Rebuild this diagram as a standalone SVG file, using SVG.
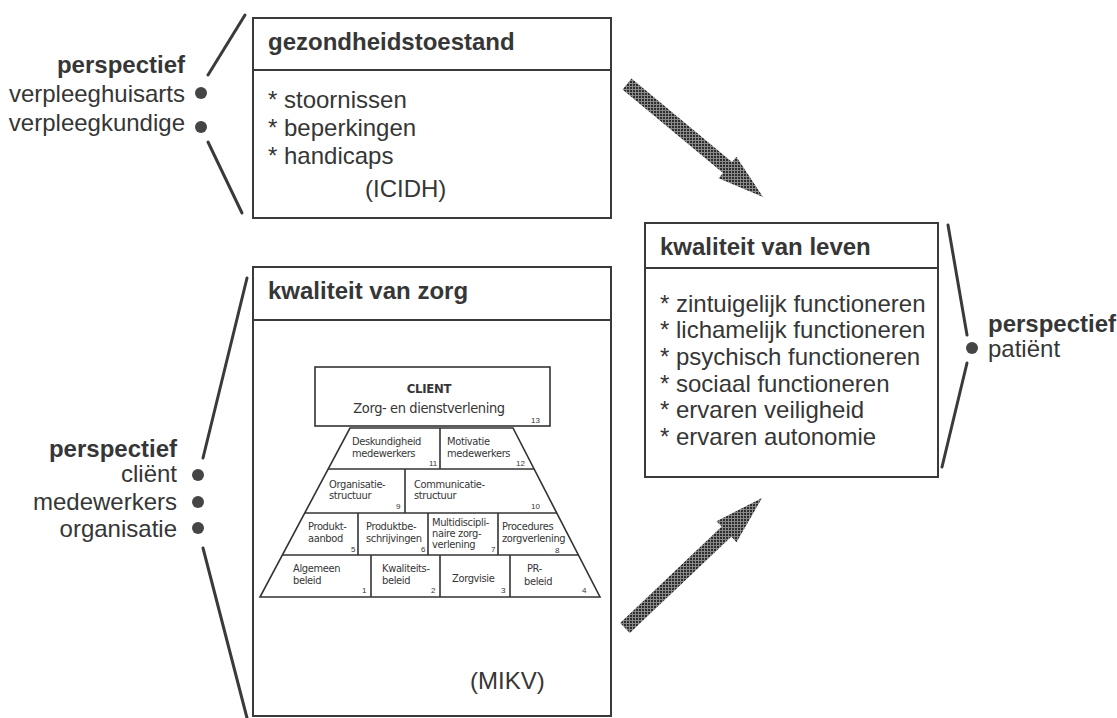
<svg xmlns="http://www.w3.org/2000/svg" width="1117" height="718" viewBox="0 0 1117 718">
<style>
text{font-family:"Liberation Sans",Arial,sans-serif;fill:#363636}
.t{font-size:24px;font-weight:bold}
.b{font-size:24px}
.s{font-family:"DejaVu Sans Condensed","Liberation Sans",sans-serif;font-size:11px;letter-spacing:-0.35px}
.n{font-size:8px}
.box{fill:#fff;stroke:#3a3a3a;stroke-width:2}
.ln{stroke:#3a3a3a;stroke-width:2;fill:none}
.pl{stroke:#333;stroke-width:1.6;fill:none}
.br{stroke:#3a3a3a;stroke-width:3;fill:none;stroke-linecap:round}
.dot{fill:#454545}
.r{text-anchor:end}
.m{text-anchor:middle}
</style>
<defs>
<pattern id="ht" width="3" height="3" patternUnits="userSpaceOnUse">
<rect width="3" height="3" fill="#8a8a8a"/>
<rect width="2" height="2" fill="#2e2e2e"/>
</pattern>
</defs>
<rect width="1117" height="718" fill="#fff"/>

<g id="gezondheidstoestand">
<rect class="box" x="253" y="18" width="358" height="200"/>
<line class="ln" x1="253" y1="70" x2="611" y2="70"/>
<text class="t" x="268" y="50">gezondheidstoestand</text>
<text class="b" x="268" y="108">* stoornissen</text>
<text class="b" x="268" y="136">* beperkingen</text>
<text class="b" x="268" y="164">* handicaps</text>
<text class="b" x="365" y="197">(ICIDH)</text>
</g>

<g id="kwaliteit-van-zorg">
<rect class="box" x="253" y="267" width="358" height="449"/>
<line class="ln" x1="253" y1="320" x2="611" y2="320"/>
<text class="t" x="268" y="299">kwaliteit van zorg</text>
<text class="b" x="470" y="689">(MIKV)</text>
</g>

<g id="pyramid">
<rect class="pl" x="315" y="367" width="235" height="59"/>
<text x="429" y="393" class="m" style="font-family:'DejaVu Sans Condensed','Liberation Sans',sans-serif;font-size:13px;font-weight:bold;letter-spacing:-0.3px">CLIENT</text>
<text x="429" y="413" class="m" style="font-family:'DejaVu Sans Condensed','Liberation Sans',sans-serif;font-size:14.5px;letter-spacing:-0.4px">Zorg- en dienstverlening</text>
<text class="n" x="531" y="423">13</text>
<polygon class="pl" points="350,428 513,428 600,597 260,597"/>
<line class="pl" x1="328" y1="469" x2="534" y2="469"/>
<line class="pl" x1="305" y1="513" x2="557" y2="513"/>
<line class="pl" x1="283" y1="555" x2="579" y2="555"/>
<line class="pl" x1="440" y1="428" x2="440" y2="469"/>
<line class="pl" x1="405" y1="469" x2="405" y2="513"/>
<line class="pl" x1="358" y1="513" x2="358" y2="555"/>
<line class="pl" x1="428" y1="513" x2="428" y2="555"/>
<line class="pl" x1="498" y1="513" x2="498" y2="555"/>
<line class="pl" x1="371" y1="555" x2="371" y2="597"/>
<line class="pl" x1="440" y1="555" x2="440" y2="597"/>
<line class="pl" x1="510" y1="555" x2="510" y2="597"/>
<text class="s" x="352" y="445">Deskundigheid</text>
<text class="s" x="352" y="457">medewerkers</text>
<text class="n" x="429" y="466">11</text>
<text class="s" x="447" y="445">Motivatie</text>
<text class="s" x="447" y="457">medewerkers</text>
<text class="n" x="516" y="466">12</text>
<text class="s" x="329" y="488">Organisatie-</text>
<text class="s" x="329" y="499">structuur</text>
<text class="n" x="396" y="509">9</text>
<text class="s" x="414" y="488">Communicatie-</text>
<text class="s" x="414" y="499">structuur</text>
<text class="n" x="531" y="509">10</text>
<text class="s" x="308" y="530">Produkt-</text>
<text class="s" x="308" y="542">aanbod</text>
<text class="n" x="351" y="552">5</text>
<text class="s" x="366" y="530">Produktbe-</text>
<text class="s" x="366" y="542">schrijvingen</text>
<text class="n" x="421" y="552">6</text>
<text class="s" x="432" y="526">Multidiscipli-</text>
<text class="s" x="432" y="537">naire zorg-</text>
<text class="s" x="432" y="548">verlening</text>
<text class="n" x="491" y="552">7</text>
<text class="s" x="502" y="530">Procedures</text>
<text class="s" x="502" y="542">zorgverlening</text>
<text class="n" x="555" y="553">8</text>
<text class="s" x="293" y="572">Algemeen</text>
<text class="s" x="293" y="584">beleid</text>
<text class="n" x="362" y="593">1</text>
<text class="s" x="382" y="572">Kwaliteits-</text>
<text class="s" x="382" y="584">beleid</text>
<text class="n" x="431" y="593">2</text>
<text class="s" x="452" y="582">Zorgvisie</text>
<text class="n" x="501" y="593">3</text>
<text class="s" x="527" y="572">PR-</text>
<text class="s" x="524" y="585">beleid</text>
<text class="n" x="582" y="593">4</text>
</g>

<g id="kwaliteit-van-leven">
<rect class="box" x="645" y="223" width="293" height="254"/>
<line class="ln" x1="645" y1="268" x2="938" y2="268"/>
<text class="t" x="660" y="255">kwaliteit van leven</text>
<text class="b" x="660" y="312">* zintuigelijk functioneren</text>
<text class="b" x="660" y="338">* lichamelijk functioneren</text>
<text class="b" x="660" y="365">* psychisch functioneren</text>
<text class="b" x="660" y="392">* sociaal functioneren</text>
<text class="b" x="660" y="418">* ervaren veiligheid</text>
<text class="b" x="660" y="445">* ervaren autonomie</text>
</g>

<g id="perspectief-gezondheid">
<text class="t r" x="185" y="73">perspectief</text>
<text class="b r" x="185" y="102">verpleeghuisarts</text>
<text class="b r" x="185" y="131">verpleegkundige</text>
<circle class="dot" cx="201" cy="93" r="6"/>
<circle class="dot" cx="201" cy="127" r="6"/>
</g>

<g id="perspectief-zorg">
<text class="t r" x="177" y="457">perspectief</text>
<text class="b r" x="177" y="482">cliënt</text>
<text class="b r" x="177" y="510">medewerkers</text>
<text class="b r" x="177" y="537">organisatie</text>
<circle class="dot" cx="198" cy="475" r="6"/>
<circle class="dot" cx="198" cy="502" r="6"/>
<circle class="dot" cx="198" cy="528" r="6"/>
</g>

<g id="perspectief-leven">
<text class="t" x="988" y="332">perspectief</text>
<text class="b" x="988" y="357">patiënt</text>
<circle class="dot" cx="972" cy="348" r="6"/>
</g>

<g id="connectors">
<line class="br" x1="245" y1="15" x2="208" y2="75"/>
<line class="br" x1="208" y1="142" x2="242" y2="213"/>
<line class="br" x1="247" y1="278" x2="203" y2="458"/>
<line class="br" x1="203" y1="548" x2="247" y2="718"/>
<line class="br" x1="948" y1="225" x2="967" y2="335"/>
<line class="br" x1="967" y1="363" x2="942" y2="467"/>
<polygon fill="url(#ht)" points="631.5,78.6 732,162.1 736.4,156.7 763,197 718.6,178.3 723,172.9 622.5,89.4"/>
<polygon fill="url(#ht)" points="620.2,622.9 721.7,526.6 716.5,521.2 762,498 736.5,542.2 731.3,536.8 629.8,633.1"/>
</g>
</svg>
